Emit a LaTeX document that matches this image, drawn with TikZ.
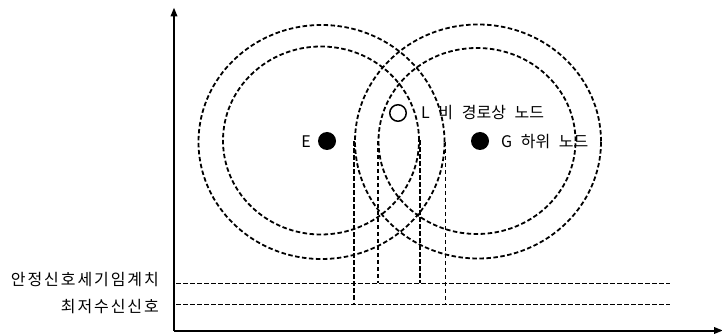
\documentclass[tikz,border=0pt]{standalone}
\usepackage{fontspec}
\newfontfamily\kr[WordSpace=2.4]{Noto Sans CJK KR}
\newfontfamily\krw[LetterSpace=12]{Noto Sans CJK KR}
\usetikzlibrary{arrows.meta,shapes.geometric}
\begin{document}
\begin{tikzpicture}[x=1pt,y=-1pt,
  sig/.style={draw,line width=1.8pt,dash pattern=on 4.5pt off 2.5pt},
  rng/.style={sig,ellipse,inner sep=0pt,fill=none},
  axis/.style={draw,line width=2pt,-{Triangle[length=9pt,width=6.5pt]}},
  lbl/.style={font=\kr\fontsize{16}{18}\selectfont,inner sep=0pt},
  albl/.style={font=\krw\fontsize{16}{18}\selectfont,inner sep=0pt},
  dot/.style={circle,fill=black,minimum size=18pt,inner sep=0pt},
  odot/.style={circle,draw,line width=1.5pt,minimum size=16.5pt,inner sep=0pt}]
\useasboundingbox (0,0) rectangle (722,336);
% axes
\coordinate (O) at (174,330.5);
\coordinate (Ytop) at (174,7.5);
\coordinate (Xend) at (723,330.5);
\draw[axis] (O) -- (Ytop);
\draw[axis] (O) -- (Xend);
% ranges
\node[rng,minimum width=246pt,minimum height=234pt] (Lout) at (321.5,142) {};
\node[rng,minimum width=196pt,minimum height=188pt] (Lin) at (321,140.5) {};
\node[rng,minimum width=246pt,minimum height=234pt] (Rout) at (478,141.5) {};
\node[rng,minimum width=197pt,minimum height=186pt] (Rin) at (477,141) {};
% threshold lines
\coordinate (T0) at (176,283.5);
\coordinate (T1) at (670,283.5);
\coordinate (M0) at (176,304.5);
\coordinate (M1) at (670,304.5);
\draw[sig] (T0) -- (T1);
\draw[sig] (M0) -- (M1);
% vertical projections
\draw[sig] (Rout.west) -- (Rout.west |- M0);
\draw[sig] (Lout.east) -- (Lout.east |- M0);
\draw[sig] (Rin.west) -- (Rin.west |- T0);
\draw[sig] (Lin.east) -- (Lin.east |- T0);
% nodes
\node[dot] (E) at (327,141) {};
\node[dot] (G) at (480,141) {};
\node[odot] (L) at (398,113) {};
\node[lbl,anchor=east] (Elbl) at (311,141.5) {E};
\node[lbl,anchor=west] (Glbl) at (501,141.5) {G 하위 노드};
\node[lbl,anchor=west] (Llbl) at (421,113) {L 비 경로상 노드};
\node[albl,anchor=east] (Tlbl) at (159,280) {안정신호세기임계치};
\node[albl,anchor=east] (Mlbl) at (159,306.5) {최저수신신호};
\end{tikzpicture}
\end{document}
